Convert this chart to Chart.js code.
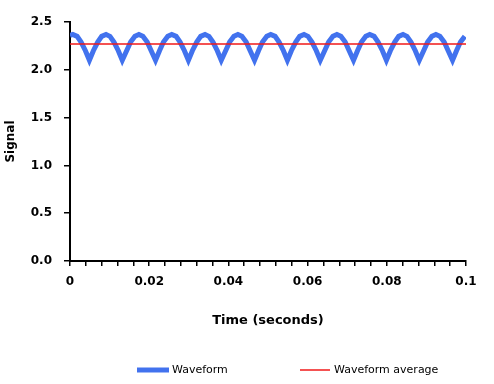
<!DOCTYPE html>
<html>
<head>
<meta charset="utf-8">
<script src="https://cdn.jsdelivr.net/npm/chart.js@4/dist/chart.umd.min.js"></script>
<style>
  html, body { margin: 0; padding: 0; background: #fff; }
  #wrap { width: 494px; height: 384px; }
</style>
</head>
<body>
<div id="wrap"><canvas id="signalChart" width="494" height="384"></canvas></div>
<script>
// values
const time = [
  0, 0.0007, 0.0018, 0.0028, 0.0039,
  0.0049, 0.0059, 0.0070, 0.0080, 0.0091, 0.0101, 0.0111, 0.0122,
  0.0132, 0.0143, 0.0153, 0.0164, 0.0174, 0.0184, 0.0195, 0.0205,
  0.0216, 0.0226, 0.0236, 0.0247, 0.0257, 0.0268, 0.0278, 0.0289,
  0.0299, 0.0309, 0.0320, 0.0330, 0.0341, 0.0351, 0.0361, 0.0372,
  0.0382, 0.0393, 0.0403, 0.0414, 0.0424, 0.0434, 0.0445, 0.0455,
  0.0466, 0.0476, 0.0486, 0.0497, 0.0507, 0.0518, 0.0528, 0.0539,
  0.0549, 0.0559, 0.0570, 0.0580, 0.0591, 0.0601, 0.0611, 0.0622,
  0.0632, 0.0643, 0.0653, 0.0664, 0.0674, 0.0684, 0.0695, 0.0705,
  0.0716, 0.0726, 0.0736, 0.0747, 0.0757, 0.0768, 0.0778, 0.0789,
  0.0799, 0.0809, 0.0820, 0.0830, 0.0841, 0.0851, 0.0861, 0.0872,
  0.0882, 0.0893, 0.0903, 0.0914, 0.0924, 0.0934, 0.0945, 0.0955,
  0.0966, 0.0976, 0.0986, 0.0997
];
const signal = [
  2.36, 2.37, 2.35, 2.29, 2.20,
  2.10, 2.20, 2.29, 2.35, 2.37, 2.35, 2.29, 2.20,
  2.10, 2.20, 2.29, 2.35, 2.37, 2.35, 2.29, 2.20,
  2.10, 2.20, 2.29, 2.35, 2.37, 2.35, 2.29, 2.20,
  2.10, 2.20, 2.29, 2.35, 2.37, 2.35, 2.29, 2.20,
  2.10, 2.20, 2.29, 2.35, 2.37, 2.35, 2.29, 2.20,
  2.10, 2.20, 2.29, 2.35, 2.37, 2.35, 2.29, 2.20,
  2.10, 2.20, 2.29, 2.35, 2.37, 2.35, 2.29, 2.20,
  2.10, 2.20, 2.29, 2.35, 2.37, 2.35, 2.29, 2.20,
  2.10, 2.20, 2.29, 2.35, 2.37, 2.35, 2.29, 2.20,
  2.10, 2.20, 2.29, 2.35, 2.37, 2.35, 2.29, 2.20,
  2.10, 2.20, 2.29, 2.35, 2.37, 2.35, 2.29, 2.20,
  2.10, 2.20, 2.29, 2.35
];
const avgTime = [0, 0.1];
const avgSignal = [2.27, 2.27];
const xLabels = ['0', '0.02', '0.04', '0.06', '0.08', '0.1'];
const seriesNames = ['Waveform', 'Waveform average'];

const toPoints = (xs, ys) => xs.map((x, i) => ({ x: x, y: ys[i] }));

// legend drawn by hand so the spacing matches the Excel one
const bottomLegend = {
  id: 'bottomLegend',
  afterDraw(chart) {
    const ctx = chart.ctx;
    const spots = [[137, 169, 172], [300, 330, 334]];
    ctx.save();
    ctx.font = '11px "DejaVu Sans"';
    ctx.textBaseline = 'middle';
    ctx.fillStyle = '#000';
    chart.data.datasets.forEach((ds, i) => {
      const s = spots[i];
      ctx.strokeStyle = ds.borderColor;
      ctx.lineWidth = ds.borderWidth;
      ctx.beginPath();
      ctx.moveTo(s[0], 370);
      ctx.lineTo(s[1], 370);
      ctx.stroke();
      ctx.fillText(ds.label, s[2], 370);
    });
    ctx.restore();
  }
};

const ctx = document.getElementById('signalChart').getContext('2d');
const signalChart = new Chart(ctx, {
  type: 'line',
  data: {
    datasets: [{
      label: seriesNames[0],
      data: toPoints(time, signal),
      borderColor: '#4272ee',
      borderWidth: 5,
      pointRadius: 0,
      tension: 0,
      order: 1
    }, {
      label: seriesNames[1],
      data: toPoints(avgTime, avgSignal),
      borderColor: '#f01818',
      borderWidth: 1.5,
      pointRadius: 0,
      order: 0
    }]
  },
  options: {
    responsive: false,
    animation: false,
    layout: { padding: { left: 0, right: 28, top: 22, bottom: 50 } },
    plugins: {
      legend: { display: false },
      tooltip: { enabled: false }
    },
    scales: {
      x: {
        type: 'linear',
        min: 0,
        max: 0.1,
        afterFit: (scale) => { scale.height = 73; },
        border: { color: '#000', width: 2 },
        grid: { drawOnChartArea: false, color: '#000', lineWidth: 1.5, tickLength: 5 },
        ticks: {
          stepSize: 0.004,
          autoSkip: false,
          maxRotation: 0,
          padding: 9,
          color: '#000',
          font: { family: '"DejaVu Sans"', size: 12, weight: 'bold' },
          callback: (v, i) => (i % 5 === 0 ? xLabels[i / 5] : '')
        },
        title: {
          display: true,
          text: 'Time (seconds)',
          color: '#000',
          font: { family: '"DejaVu Sans"', size: 13, weight: 'bold' },
          padding: { top: 0, bottom: 6 }
        }
      },
      y: {
        min: 0,
        max: 2.5,
        afterFit: (scale) => { scale.width = 70; },
        border: { color: '#000', width: 2 },
        grid: { drawOnChartArea: false, color: '#000', lineWidth: 1.5, tickLength: 6 },
        ticks: {
          stepSize: 0.5,
          padding: 12,
          color: '#000',
          font: { family: '"DejaVu Sans"', size: 12, weight: 'bold' },
          callback: (v) => v.toFixed(1)
        },
        title: {
          display: true,
          text: 'Signal',
          color: '#000',
          font: { family: '"DejaVu Sans"', size: 12, weight: 'bold' },
          padding: { top: 4, bottom: 0 }
        }
      }
    }
  },
  plugins: [bottomLegend]
});
</script>
</body>
</html>
